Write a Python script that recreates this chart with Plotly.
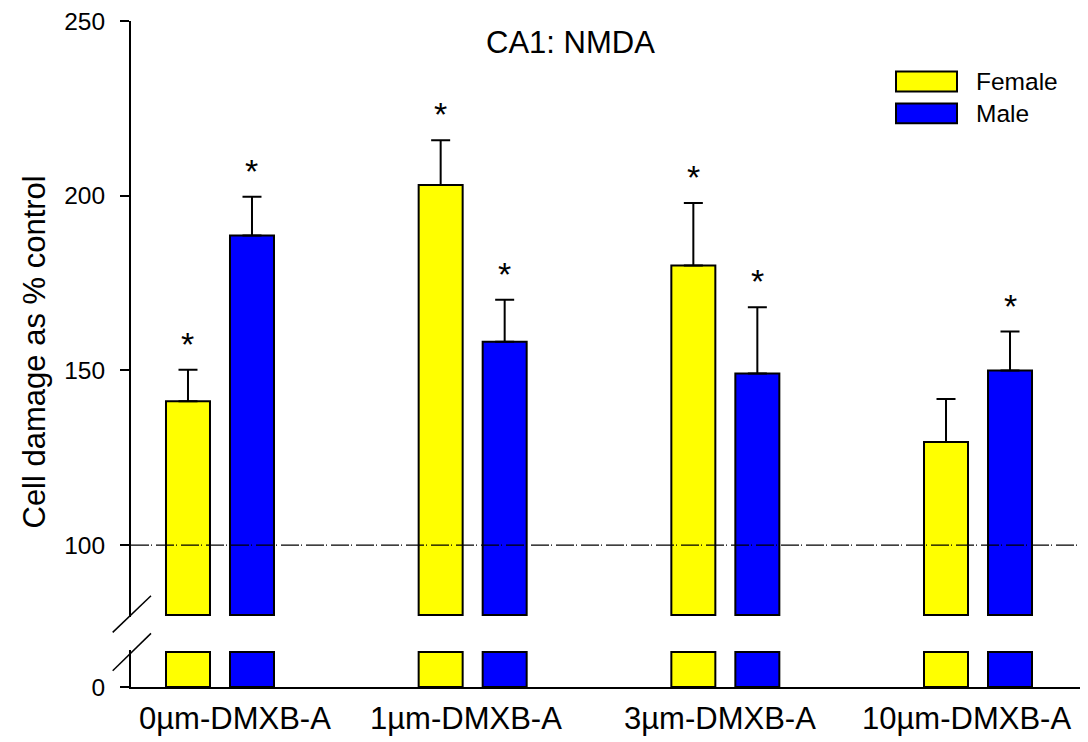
import plotly.graph_objects as go

# ---------------- data ----------------
groups = ["0µm-DMXB-A", "1µm-DMXB-A", "3µm-DMXB-A", "10µm-DMXB-A"]
female = [141.2, 203.1, 180.0, 129.5]
female_err = [9.0, 12.8, 17.9, 12.3]
male = [188.6, 158.2, 149.1, 150.0]
male_err = [11.1, 12.0, 19.0, 11.1]
female_sig = [True, True, True, False]
male_sig = [True, True, True, True]
control_level = 100
upper_ticks = [100, 150, 200, 250]
lower_ticks = [0]
break_low = 10     # top of lower axis segment
break_high = 80    # bottom of upper axis segment

# ---------------- style / layout constants ----------------
OFF = 8                      # page body margin in the browser
W, H = 1088 - OFF, 742 - OFF
ML, MR, MT, MB = 131 - OFF, 0, 16 - OFF, 742 - 687
PW, PH = W - ML - MR, H - MT - MB
FONT = "Liberation Sans, Arial, sans-serif"
YELLOW, BLUE = "#FFFF00", "#0000FF"
BARGAP = 0.4934
BARGROUPGAP = 0.3125
XRANGE = [-0.3522, 3.4353]
LABEL_XSHIFT = [15, -7, -5, -12]

def px2x(px):
    """reference page pixel x -> paper fraction"""
    return (px - OFF - ML) / PW

def px2y(py):
    """reference page pixel y -> paper fraction"""
    return (H - MB - (py - OFF)) / PH

x = list(range(len(groups)))
slot = (1 - BARGAP) / 2
fx = [i - slot / 2 for i in x]
mx = [i + slot / 2 for i in x]

fig = go.Figure()

bar_line = dict(color="black", width=2)

# upper segment bars (start at break_high)
fig.add_trace(go.Bar(
    x=x, y=[v - break_high for v in female], base=break_high,
    marker=dict(color=YELLOW, line=bar_line), name="Female",
    xaxis="x", yaxis="y2", showlegend=False,
    error_y=dict(type="data", array=female_err, arrayminus=[0] * len(female),
                 symmetric=False, color="black", thickness=2, width=9.5),
))
fig.add_trace(go.Bar(
    x=x, y=[v - break_high for v in male], base=break_high,
    marker=dict(color=BLUE, line=bar_line), name="Male",
    xaxis="x", yaxis="y2", showlegend=False,
    error_y=dict(type="data", array=male_err, arrayminus=[0] * len(male),
                 symmetric=False, color="black", thickness=2, width=9.5),
))
# lower segment stubs
fig.add_trace(go.Bar(
    x=x, y=[min(v, break_low) for v in female],
    marker=dict(color=YELLOW, line=bar_line), name="Female",
    xaxis="x", yaxis="y", showlegend=False,
))
fig.add_trace(go.Bar(
    x=x, y=[min(v, break_low) for v in male],
    marker=dict(color=BLUE, line=bar_line), name="Male",
    xaxis="x", yaxis="y", showlegend=False,
))

annotations = []
# significance stars
for xs, vals, errs, sig in ((fx, female, female_err, female_sig), (mx, male, male_err, male_sig)):
    for xi, v, e, s in zip(xs, vals, errs, sig):
        if s:
            annotations.append(dict(
                x=xi, y=v + e, xref="x", yref="y2", text="*", showarrow=False,
                xanchor="center", yanchor="middle", yshift=26,
                font=dict(family=FONT, size=34, color="black")))

# category labels
for i, (g, dx) in enumerate(zip(groups, LABEL_XSHIFT)):
    annotations.append(dict(
        x=i, y=px2y(719), xref="x", yref="paper", text=g, showarrow=False,
        xanchor="center", yanchor="middle", xshift=dx,
        font=dict(family=FONT, size=31, color="black")))

# title
annotations.append(dict(
    x=px2x(570), y=px2y(38), xref="paper", yref="paper", text="CA1: NMDA",
    showarrow=False, xanchor="center", yanchor="middle",
    font=dict(family=FONT, size=31, color="black")))

# y-axis title
annotations.append(dict(
    x=px2x(35), y=px2y(350), xref="paper", yref="paper",
    text="Cell damage as % control", textangle=-90, showarrow=False,
    xanchor="center", yanchor="middle",
    font=dict(family=FONT, size=31, color="black")))

# legend text
for label, cy in (("Female", 77), ("Male", 109)):
    annotations.append(dict(
        x=px2x(974), y=px2y(cy), xref="paper", yref="paper", text=label,
        showarrow=False, xanchor="left", yanchor="middle",
        font=dict(family=FONT, size=24.5, color="black")))

shapes = []
# control reference line
shapes.append(dict(type="line", xref="paper", x0=0, x1=1, yref="y2",
                   y0=control_level, y1=control_level,
                   line=dict(color="black", width=1.3, dash="18px,2px,1px,4px")))
# legend swatches
for col, (t, b) in ((YELLOW, (67, 87)), (BLUE, (99, 119))):
    shapes.append(dict(type="rect", xref="paper", yref="paper",
                       x0=px2x(896), x1=px2x(957), y0=px2y(b), y1=px2y(t),
                       fillcolor=col, line=dict(color="black", width=2)))
# axis break marks
for (x0, y0, x1, y1) in ((112.7, 632, 151, 595), (112.7, 670.7, 151, 633)):
    shapes.append(dict(type="line", xref="paper", yref="paper",
                       x0=px2x(x0), y0=px2y(y0), x1=px2x(x1), y1=px2y(y1),
                       line=dict(color="black", width=1.5)))

px_per_unit = (544 - 16) / 150.0
upper_bottom_px = 544 + (control_level - 79.4) * px_per_unit
upper_dom0 = px2y(upper_bottom_px)
lower_top_px = 687 - 10.5 * px_per_unit
lower_dom1 = px2y(lower_top_px)

axis_common = dict(showline=True, linewidth=2, linecolor="black", ticks="outside",
                   ticklen=9, tickwidth=2, tickcolor="black", showgrid=False,
                   zeroline=False, ticklabelstandoff=10, ticklabeloverflow="allow",
                   tickfont=dict(family=FONT, size=24.5, color="black"))

fig.update_layout(
    width=W, height=H,
    margin=dict(l=ML, r=MR, t=MT, b=MB, pad=0),
    paper_bgcolor="white", plot_bgcolor="white",
    barmode="group", bargap=BARGAP, bargroupgap=BARGROUPGAP,
    showlegend=False,
    xaxis=dict(domain=[0, 1], range=XRANGE, showline=True, linewidth=2,
               linecolor="black", showticklabels=False, ticks="",
               showgrid=False, zeroline=False, anchor="y", fixedrange=True),
    yaxis=dict(domain=[0, lower_dom1], range=[0, 10.5], tickvals=lower_ticks,
               anchor="x", **axis_common),
    yaxis2=dict(domain=[upper_dom0, 1], range=[79.4, 250.01], tickvals=upper_ticks,
                anchor="x", **axis_common),
    annotations=annotations, shapes=shapes,
)

fig.write_html("out.html")
